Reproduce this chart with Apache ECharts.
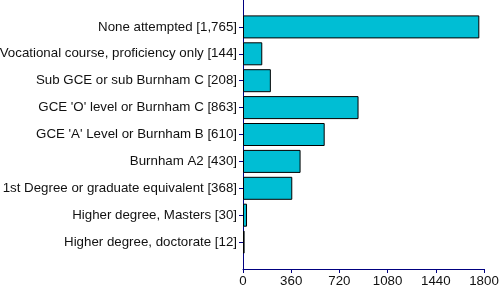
<!DOCTYPE html>
<html>
<head>
<meta charset="utf-8">
<script src="https://cdn.jsdelivr.net/npm/echarts@6/dist/echarts.min.js"></script>
<style>html,body{margin:0;padding:0;background:#fff;}#c{width:500px;height:298px;}</style>
</head>
<body>
<div id="c"></div>
<script>
var categories = [
  "None attempted [1,765]",
  "Vocational course, proficiency only [144]",
  "Sub GCE or sub Burnham C [208]",
  "GCE 'O' level or Burnham C [863]",
  "GCE 'A' Level or Burnham B [610]",
  "Burnham A2 [430]",
  "1st Degree or graduate equivalent [368]",
  "Higher degree, Masters [30]",
  "Higher degree, doctorate [12]"
];
var values = [1765, 144, 208, 863, 610, 430, 368, 30, 12];
var xTicks = [0, 360, 720, 1080, 1440, 1800];

var cats = [""].concat(categories).concat([""]);
var vals = [null].concat(values).concat([null]);

var chart = echarts.init(document.getElementById('c'), null, {renderer: 'canvas'});
chart.setOption({
  animation: false,
  grid: {left: 243, right: 16, top: 0, bottom: 29, containLabel: false, outerBoundsMode: 'none'},
  xAxis: {
    type: 'value',
    min: xTicks[0],
    max: xTicks[xTicks.length - 1],
    interval: xTicks[1] - xTicks[0],
    axisLine: {show: true, lineStyle: {color: '#000080', width: 1}},
    axisTick: {show: true, length: 4, lineStyle: {color: '#000080'}},
    splitLine: {show: false},
    axisLabel: {color: '#111', fontFamily: 'Arial, Liberation Sans', fontSize: 13.3, margin: 6,
      formatter: function (v) { return String(v); }}
  },
  yAxis: {
    type: 'category',
    data: cats,
    inverse: true,
    boundaryGap: false,
    axisLine: {show: true, onZero: false, lineStyle: {color: '#000080', width: 1}},
    axisTick: {show: true, length: 4, lineStyle: {color: '#000080'},
      interval: function (i) { return i > 0 && i < cats.length - 1; }},
    axisLabel: {color: '#111', fontFamily: 'Arial, Liberation Sans', fontSize: 13.3, margin: 6, interval: 0},
    splitLine: {show: false}
  },
  series: [{
    type: 'bar',
    data: vals,
    barWidth: 23,
    itemStyle: {color: '#00BED4', borderColor: '#000', borderWidth: 1}
  }]
});
</script>
</body>
</html>
